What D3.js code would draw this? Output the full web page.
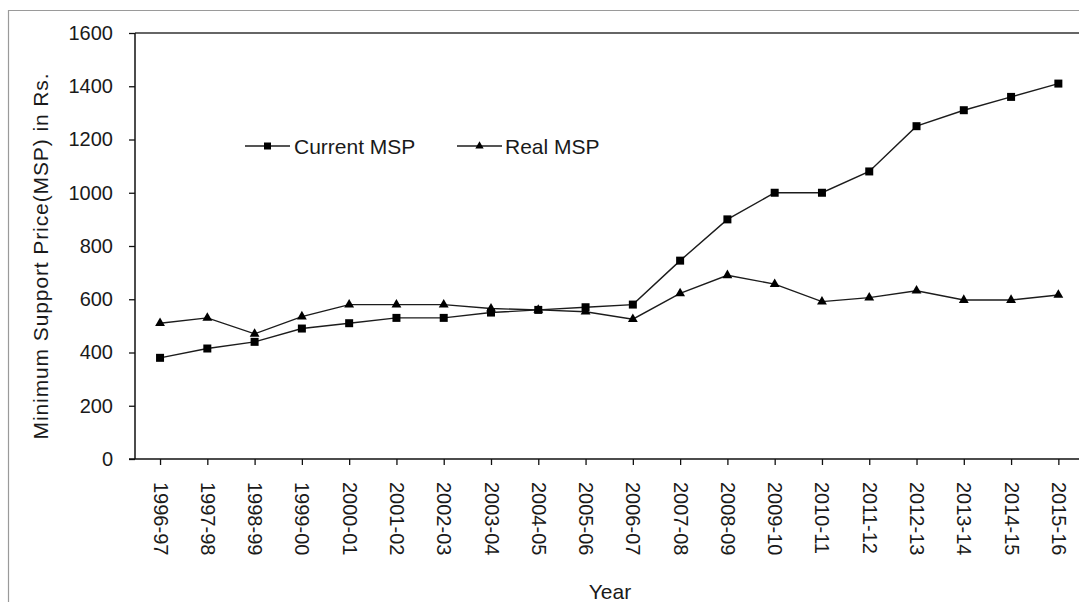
<!DOCTYPE html>
<html>
<head>
<meta charset="utf-8">
<script src="https://cdn.jsdelivr.net/npm/d3@7"></script>
<style>
  html, body { margin: 0; padding: 0; background: #fff; }
  svg { display: block; }
  text { font-family: "Liberation Sans", Arial, sans-serif; fill: #1a1a1a; }
</style>
</head>
<body>
<script>
const years = ["1996-97","1997-98","1998-99","1999-00","2000-01","2001-02","2002-03","2003-04","2004-05","2005-06","2006-07","2007-08","2008-09","2009-10","2010-11","2011-12","2012-13","2013-14","2014-15","2015-16"];
const currentMSP = [380,415,440,490,510,530,530,550,560,570,580,745,900,1000,1000,1080,1250,1310,1360,1410];
const realMSP = [510,530,470,535,580,580,580,565,560,553,525,622,690,657,591,606,632,597,597,616];
const yTicks = [0,200,400,600,800,1000,1200,1400,1600];
const seriesNames = ["Current MSP","Real MSP"];

const W = 1079, H = 602;
const svg = d3.select("body").append("svg").attr("width", W).attr("height", H);

const pLeft = 135, pRight = 1082, pTop = 33, pBottom = 459;

// outer frame
svg.append("path").attr("d", `M8.5,${H} L8.5,10.5 L${W},10.5`)
  .attr("fill", "none").attr("stroke", "#9a9a9a").attr("stroke-width", 1.2);

const x = d3.scalePoint().domain(years).range([136.4, pRight]).padding(0.5);
const y = d3.scaleLinear().domain([0, 1600]).range([pBottom, pTop]);

// plot top border
svg.append("line").attr("x1", pLeft).attr("x2", pRight).attr("y1", pTop).attr("y2", pTop)
  .attr("stroke", "#333").attr("stroke-width", 1.5);

// y axis
const yAxis = svg.append("g").attr("transform", `translate(${pLeft},0)`)
  .call(d3.axisLeft(y).tickValues(yTicks).tickSize(6).tickPadding(16).tickFormat(d3.format("d")));
yAxis.select(".domain").attr("stroke", "#111").attr("stroke-width", 1.5).attr("d", `M0,${pTop}V${pBottom}`);
yAxis.selectAll(".tick line").attr("stroke", "#111").attr("stroke-width", 1.3);
yAxis.selectAll(".tick text").attr("font-size", 20).attr("fill", "#1a1a1a")
  .attr("font-family", "Liberation Sans, Arial, sans-serif");

// x axis
const xAxis = svg.append("g").attr("transform", `translate(0,${pBottom})`)
  .call(d3.axisBottom(x).tickSize(6).tickPadding(0));
xAxis.select(".domain").attr("stroke", "#111").attr("stroke-width", 1.5).attr("d", `M${pLeft-6},0H${pRight}`);
xAxis.selectAll(".tick line").attr("stroke", "#111").attr("stroke-width", 1.3);
xAxis.selectAll(".tick text")
  .attr("font-size", 20).attr("fill", "#1a1a1a")
  .attr("font-family", "Liberation Sans, Arial, sans-serif")
  .attr("text-anchor", "start")
  .attr("dy", null)
  .attr("dominant-baseline", "central")
  .attr("transform", "translate(0,23) rotate(90)")
  .attr("x", 0).attr("y", 0);

// axis titles
svg.append("text").attr("transform", "translate(40,256) rotate(-90)")
  .attr("text-anchor", "middle").attr("dominant-baseline", "central")
  .attr("font-size", 21).attr("letter-spacing", 0.9)
  .text("Minimum Support Price(MSP) in Rs.");
svg.append("text").attr("x", 610).attr("y", 599).attr("text-anchor", "middle")
  .attr("font-size", 21).text("Year");

// lines
const line = d3.line().x((d, i) => x(years[i])).y(d => y(d));
const lineColor = "#1c1c1c";
[currentMSP, realMSP].forEach(s => {
  svg.append("path").datum(s).attr("d", line)
    .attr("fill", "none").attr("stroke", lineColor).attr("stroke-width", 1.4);
});

const sq = d3.symbol().type(d3.symbolSquare).size(64);
const tri = d3.symbol().type(d3.symbolTriangle).size(42);

svg.append("g").selectAll("path").data(currentMSP).join("path")
  .attr("d", sq).attr("transform", (d, i) => `translate(${x(years[i])},${y(d)})`)
  .attr("fill", "#000");
svg.append("g").selectAll("path").data(realMSP).join("path")
  .attr("d", tri).attr("transform", (d, i) => `translate(${x(years[i])},${y(d)})`)
  .attr("fill", "#000");

// legend
const legendSq = d3.symbol().type(d3.symbolSquare).size(49);
const legendTri = d3.symbol().type(d3.symbolTriangle).size(30);
const legend = [
  {name: seriesNames[0], x1: 245, x2: 290, sym: legendSq, tx: 294},
  {name: seriesNames[1], x1: 457, x2: 502, sym: legendTri, tx: 505}
];
const ly = 146;
legend.forEach(l => {
  svg.append("line").attr("x1", l.x1).attr("x2", l.x2).attr("y1", ly).attr("y2", ly)
    .attr("stroke", lineColor).attr("stroke-width", 1.4);
  svg.append("path").attr("d", l.sym())
    .attr("transform", `translate(${(l.x1 + l.x2) / 2},${ly})`).attr("fill", "#000");
  svg.append("text").attr("x", l.tx).attr("y", ly).attr("dominant-baseline", "central")
    .attr("font-size", 21).text(l.name);
});
</script>
</body>
</html>
